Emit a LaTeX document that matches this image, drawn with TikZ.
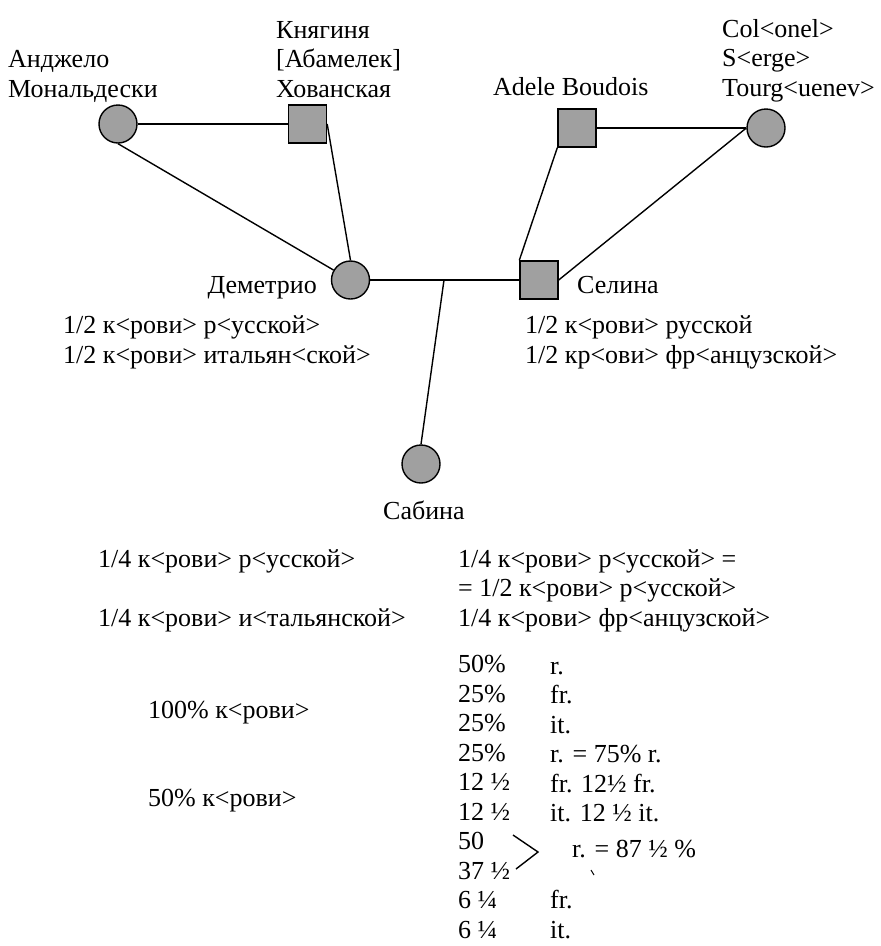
\documentclass[tikz,border=0pt]{standalone}
\usepackage{fontspec}
\setmainfont{Liberation Serif}
\definecolor{famgray}{RGB}{160,160,160}
\begin{document}
\begin{tikzpicture}[x=1pt,y=-1pt,
  person/.style={circle,draw,line width=1.4pt,fill=famgray,minimum size=38pt,inner sep=0pt},
  persbox/.style={rectangle,draw,line width=1.4pt,fill=famgray,minimum size=38pt,inner sep=0pt},
  link/.style={line width=1.4pt},
  lbl/.style={anchor=base west,inner sep=0pt,align=left,font=\fontsize{26}{29.5}\selectfont}]
\useasboundingbox (0,0) rectangle (881,946);

\node[person] (ang) at (118,124) {};
\node[persbox] (kho) at (307.5,124) {};
\node[persbox] (ade) at (577,128) {};
\node[person] (tur) at (766,128) {};
\node[person] (dem) at (350.5,280) {};
\node[persbox] (sel) at (539,280) {};
\node[person] (sab) at (421,464) {};
\coordinate (kid) at (444,280);

\node[lbl] (angname) at (8,97) {Анджело\\Мональдески};
\node[lbl] (khoname) at (276,97) {Княгиня\\{[}Абамелек{]}\\Хованская};
\node[lbl] (adename) at (493,95) {Adele Boudois};
\node[lbl] (turname) at (722,96) {Col<onel>\\S<erge>\\Tourg<uenev>};
\node[lbl,anchor=base east] (demname) at (317,293) {Деметрио};
\node[lbl] (selname) at (577,293) {Селина};
\node[lbl] (sabname) at (383,519) {Сабина};

\node[lbl] (demblood) at (63,363) {1/2 к<рови> р<усской>\\1/2 к<рови> итальян<ской>};
\node[lbl] (selblood) at (525,363) {1/2 к<рови> русской\\1/2 кр<ови> фр<анцузской>};

\node[lbl] (sableft) at (98,626) {1/4 к<рови> р<усской>\\[29.5pt]1/4 к<рови> и<тальянской>};
\node[lbl] (sabright) at (458,626) {1/4 к<рови> р<усской> =\\= 1/2 к<рови> р<усской>\\1/4 к<рови> фр<анцузской>};

\node[lbl] (full) at (148,718) {100\% к<рови>};
\node[lbl] (half) at (148,806) {50\% к<рови>};

\node[lbl] (pcts) at (458,938) {50\%\\25\%\\25\%\\25\%\\12 ½\\12 ½\\50\\37 ½\\6 ¼\\6 ¼};
\node[lbl] (kinds) at (550,821.5) {r.\\fr.\\it.\\r. = 75\% r.\\fr. 12½ fr.\\it. 12 ½ it.};
\node[lbl] (kindsb) at (550,938) {fr.\\it.};
\node[lbl] (total) at (572,857) {r. = 87 ½ \%};

\draw[link] (ang) -- (kho);
\draw[link] (ang.south) -- (dem);
\draw[link] (kho.east) -- (dem.north);
\draw[link] (ade) -- (tur);
\draw[link] (ade.south west) -- (sel.north west);
\draw[link] (tur.west) -- (sel.east);
\draw[link] (dem) -- (sel);
\draw[link] (kid) -- (sab.north);
\draw[link] (513,835) -- (538,852) -- (516,869);
\draw[line width=1pt] (591,870) -- (594,875);
\end{tikzpicture}
\end{document}
